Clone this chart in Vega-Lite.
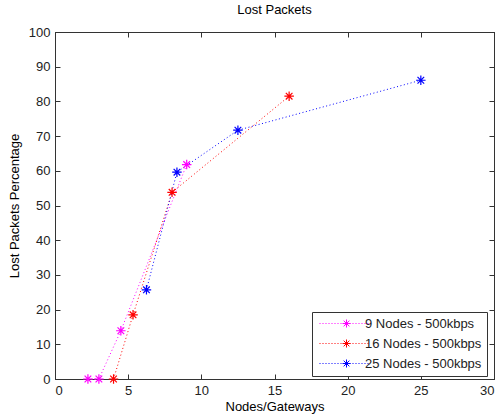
{
  "$schema": "https://vega.github.io/schema/vega-lite/v6.json",
  "width": 439,
  "height": 347,
  "autosize": "none",
  "padding": {"left": 55, "top": 32, "right": 6, "bottom": 37},
  "background": "white",
  "title": {"text": "Lost Packets", "fontSize": 13, "font": "Liberation Sans", "fontWeight": "normal", "color": "black", "offset": 9, "anchor": "middle"},
  "config": {
    "view": {"stroke": "#333333", "strokeWidth": 1},
    "axis": {"grid": false, "labelFont": "Liberation Sans", "labelFontSize": 13, "labelColor": "#222222", "titleFont": "Liberation Sans", "titleFontSize": 13, "titleFontWeight": "normal", "titleColor": "black", "domainColor": "#333333", "tickColor": "#333333", "tickSize": -5, "labelPadding": 10}
  },
  "data": {"values": [
    {"series": "9 Nodes - 500kbps", "x": 2.25, "y": 0},
    {"series": "9 Nodes - 500kbps", "x": 3, "y": 0},
    {"series": "9 Nodes - 500kbps", "x": 4.5, "y": 13.9},
    {"series": "9 Nodes - 500kbps", "x": 9, "y": 61.8},
    {"series": "16 Nodes - 500kbps", "x": 4, "y": 0},
    {"series": "16 Nodes - 500kbps", "x": 5.333, "y": 18.5},
    {"series": "16 Nodes - 500kbps", "x": 8, "y": 53.8},
    {"series": "16 Nodes - 500kbps", "x": 16, "y": 81.5},
    {"series": "25 Nodes - 500kbps", "x": 6.25, "y": 25.7},
    {"series": "25 Nodes - 500kbps", "x": 8.333, "y": 59.6},
    {"series": "25 Nodes - 500kbps", "x": 12.5, "y": 71.7},
    {"series": "25 Nodes - 500kbps", "x": 25, "y": 86.1}
  ]},
  "resolve": {"axis": {"x": "independent", "y": "independent"}},
  "layer": [
    {
      "mark": {"type": "line", "strokeDash": [1, 2.5], "strokeWidth": 1},
      "encoding": {
        "x": {"field": "x", "type": "quantitative", "scale": {"domain": [0, 30], "nice": false}, "axis": {"orient": "bottom", "values": [0, 5, 10, 15, 20, 25, 30], "title": "Nodes/Gateways", "titlePadding": 3}},
        "y": {"field": "y", "type": "quantitative", "scale": {"domain": [0, 100], "nice": false}, "axis": {"orient": "left", "values": [0, 10, 20, 30, 40, 50, 60, 70, 80, 90, 100], "title": "Lost Packets Percentage", "titlePadding": 7}},
        "color": {"field": "series", "type": "nominal", "sort": ["9 Nodes - 500kbps", "16 Nodes - 500kbps", "25 Nodes - 500kbps"], "scale": {"domain": ["9 Nodes - 500kbps", "16 Nodes - 500kbps", "25 Nodes - 500kbps"], "range": ["#FF00FF", "#FF0000", "#0000FF"]},
          "legend": {"title": null, "orient": "none", "legendX": 257, "legendY": 280, "strokeColor": "#333333", "fillColor": "white", "padding": 5, "labelFont": "Liberation Sans", "labelFontSize": 13, "labelColor": "#222222", "symbolType": "M-0.8,0L-0.6,0M-0.2,0L0,0M0.4,0L0.6,0M1,0L1.2,0M1.6,0L1.8,0M2.2,0L2.4,0M2.8,0L3,0M3.4,0L3.6,0M4,0L4.2,0M4.6,0L4.8,0M5.2,0L5.4,0M5.8,0L6,0M6.4,0L6.6,0M7,0L7.2,0M7.6,0L7.8,0M8.2,0L8.4,0M8.8,0L9,0M3.8,0L5.4,0M4.6,-0.8L4.6,0.8M4.03,-0.57L5.17,0.57M4.03,0.57L5.17,-0.57", "symbolSize": 100, "symbolStrokeWidth": 1, "rowPadding": 6, "labelOffset": 35}},
        "order": {"field": "x", "type": "quantitative"}
      }
    },
    {
      "mark": {"type": "point", "filled": false, "strokeWidth": 1.2, "size": 90, "shape": "M-1,0L1,0M0,-1L0,1M-0.7,-0.7L0.7,0.7M-0.7,0.7L0.7,-0.7", "opacity": 1},
      "encoding": {
        "x": {"field": "x", "type": "quantitative", "scale": {"domain": [0, 30], "nice": false}, "axis": {"orient": "top", "values": [0, 5, 10, 15, 20, 25, 30], "labels": false, "title": null}},
        "y": {"field": "y", "type": "quantitative", "scale": {"domain": [0, 100], "nice": false}, "axis": {"orient": "right", "values": [0, 10, 20, 30, 40, 50, 60, 70, 80, 90, 100], "labels": false, "title": null}},
        "color": {"field": "series", "type": "nominal", "scale": {"domain": ["9 Nodes - 500kbps", "16 Nodes - 500kbps", "25 Nodes - 500kbps"], "range": ["#FF00FF", "#FF0000", "#0000FF"]}, "legend": null}
      }
    }
  ]
}
